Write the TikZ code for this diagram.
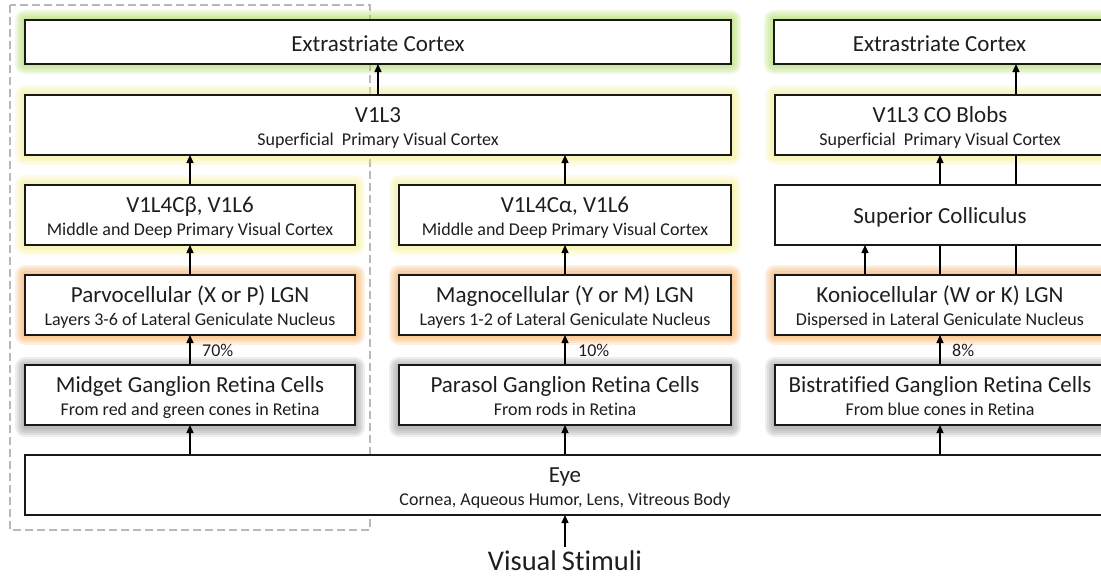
\documentclass[tikz,border=0pt]{standalone}
\usepackage{fontspec}
\setmainfont{Carlito}[Ligatures=NoCommon]
\usetikzlibrary{arrows.meta}
\pgfdeclarelayer{glow}
\pgfdeclarelayer{conn}
\pgfsetlayers{glow,conn,main}
\definecolor{glgreen}{RGB}{165,215,90}
\definecolor{glyellow}{RGB}{240,235,120}
\definecolor{glorange}{RGB}{245,165,80}
\definecolor{glgray}{RGB}{120,120,120}
\definecolor{txt}{RGB}{30,30,30}
\newcommand\boxglow[4]{%
  \begin{pgfonlayer}{glow}
  \foreach \w in {4,8,12,16,20}{%
    \draw[#2, line width=\w pt, opacity=#4, line join=round]
      ([yshift=#3]#1.south west) rectangle ([yshift=#3]#1.north east);}
  \end{pgfonlayer}}
\begin{document}
\begin{tikzpicture}[x=1pt,y=-1pt,
  box/.style={draw=black!90, fill=white, line width=1.3pt, minimum width=330pt,
    minimum height=60pt, inner sep=0pt, outer sep=0pt},
  ttl/.style={font=\fontsize{23}{27}\selectfont, text=txt, anchor=base, inner sep=0pt},
  sub/.style={font=\fontsize{18}{22}\selectfont, text=txt, anchor=base, inner sep=0pt},
  pct/.style={font=\fontsize{18}{22}\selectfont, text=txt, anchor=base west, inner sep=0pt},
  arr/.style={line width=1.3pt, draw=black, -{Triangle[length=8pt,width=7pt]}},
  dashbox/.style={draw=black!28, line width=1.1pt, dash pattern=on 8pt off 4pt}]
\useasboundingbox (0,0) rectangle (1101,576);

\begin{pgfonlayer}{glow}
\draw[dashbox] (10,5) rectangle (370,530);
\end{pgfonlayer}

% boxes
\node[box, minimum width=706pt, minimum height=44pt] (extraL) at (378,42) {};
\node[box, minimum width=331pt, minimum height=44pt] (extraR) at (939.5,42) {};
\node[box, minimum width=706pt] (v1l3) at (378,125) {};
\node[box] (v1l3co) at (940,125) {};
\node[box] (v4b) at (190,215) {};
\node[box, minimum width=332pt] (v4a) at (565,215) {};
\node[box] (sc) at (940,215) {};
\node[box] (parvo) at (190,305) {};
\node[box, minimum width=332pt] (magno) at (565,305) {};
\node[box] (konio) at (940,305) {};
\node[box] (midget) at (190,395) {};
\node[box, minimum width=332pt] (parasol) at (565,395) {};
\node[box] (bistrat) at (940,395) {};
\node[box, minimum width=1080pt] (eye) at (565,485) {};
\node[font=\fontsize{28.5}{32}\selectfont, text=txt, anchor=base, inner sep=3pt] (stim) at (565,570) {Visual\hspace{0.18em}Stimuli};

% glows
\boxglow{extraL}{glgreen}{0pt}{0.17}
\boxglow{extraR}{glgreen}{0pt}{0.17}
\boxglow{v1l3}{glyellow}{0pt}{0.15}
\boxglow{v1l3co}{glyellow}{0pt}{0.15}
\boxglow{v4b}{glyellow}{0pt}{0.15}
\boxglow{v4a}{glyellow}{0pt}{0.15}
\boxglow{parvo}{glorange}{0pt}{0.17}
\boxglow{magno}{glorange}{0pt}{0.17}
\boxglow{konio}{glorange}{0pt}{0.17}
\boxglow{midget}{glgray}{-2pt}{0.13}
\boxglow{parasol}{glgray}{-2pt}{0.13}
\boxglow{bistrat}{glgray}{-2pt}{0.13}

% texts
\node[ttl] (tExL) at ([yshift=-31pt]extraL.north) {Extrastriate Cortex};
\node[ttl] (tExR) at ([yshift=-31pt]extraR.north) {Extrastriate Cortex};
\node[ttl] (tV3) at ([yshift=-27pt]v1l3.north) {V1L3};
\node[sub] (sV3) at ([yshift=-50pt]v1l3.north) {Superficial\ \ Primary Visual Cortex};
\node[ttl] (tV3co) at ([yshift=-27pt]v1l3co.north) {V1L3 CO Blobs};
\node[sub] (sV3co) at ([yshift=-50pt]v1l3co.north) {Superficial\ \ Primary Visual Cortex};
\node[ttl] (tV4b) at ([yshift=-27pt]v4b.north) {V1L4Cβ, V1L6};
\node[sub] (sV4b) at ([yshift=-50pt]v4b.north) {Middle and Deep Primary Visual Cortex};
\node[ttl] (tV4a) at ([yshift=-27pt]v4a.north) {V1L4Cα, V1L6};
\node[sub] (sV4a) at ([yshift=-50pt]v4a.north) {Middle and Deep Primary Visual Cortex};
\node[ttl] (tSC) at ([yshift=-38pt]sc.north) {Superior Colliculus};
\node[ttl] (tPa) at ([yshift=-27pt]parvo.north) {Parvocellular (X or P) LGN};
\node[sub] (sPa) at ([yshift=-50pt]parvo.north) {Layers 3-6 of Lateral Geniculate Nucleus};
\node[ttl] (tMa) at ([yshift=-27pt]magno.north) {Magnocellular (Y or M) LGN};
\node[sub] (sMa) at ([yshift=-50pt]magno.north) {Layers 1-2 of Lateral Geniculate Nucleus};
\node[ttl] (tKo) at ([yshift=-27pt]konio.north) {Koniocellular (W or K) LGN};
\node[sub] (sKo) at ([yshift=-50pt]konio.north) {Dispersed in Lateral Geniculate Nucleus};
\node[ttl] (tMi) at ([yshift=-27pt]midget.north) {Midget Ganglion Retina Cells};
\node[sub] (sMi) at ([yshift=-50pt]midget.north) {From red and green cones in Retina};
\node[ttl] (tPs) at ([yshift=-27pt]parasol.north) {Parasol Ganglion Retina Cells};
\node[sub] (sPs) at ([yshift=-50pt]parasol.north) {From rods in Retina};
\node[ttl] (tBi) at ([yshift=-27pt]bistrat.north) {Bistratified Ganglion Retina Cells};
\node[sub] (sBi) at ([yshift=-50pt]bistrat.north) {From blue cones in Retina};
\node[ttl] (tEy) at ([yshift=-27pt]eye.north) {Eye};
\node[sub] (sEy) at ([yshift=-50pt]eye.north) {Cornea, Aqueous Humor, Lens, Vitreous Body};

% percentages
\node[pct] (p70) at ([xshift=12pt,yshift=-21pt]parvo.south) {70\%};
\node[pct] (p10) at ([xshift=13pt,yshift=-21pt]magno.south) {10\%};
\node[pct] (p8) at ([xshift=12pt,yshift=-21pt]konio.south) {8\%};

% connectors
\begin{pgfonlayer}{conn}
\draw[arr] (v1l3.north) -- (extraL.south);
\draw[arr] (v4b.north) -- (v4b.north |- v1l3.south);
\draw[arr] (v4a.north) -- (v4a.north |- v1l3.south);
\draw[arr] (parvo.north) -- (v4b.south);
\draw[arr] (magno.north) -- (v4a.south);
\draw[arr] (midget.north) -- (parvo.south);
\draw[arr] (parasol.north) -- (magno.south);
\draw[arr] (bistrat.north) -- (konio.south);
\draw[arr] (eye.north -| midget.south) -- (midget.south);
\draw[arr] (eye.north -| parasol.south) -- (parasol.south);
\draw[arr] (eye.north -| bistrat.south) -- (bistrat.south);
\draw[arr] ([xshift=-75pt]konio.north) -- ([xshift=-75pt]sc.south);
\draw[arr] (konio.north) -- (v1l3co.south);
\draw[arr] ([xshift=76pt]konio.north) -- ([xshift=76.5pt]extraR.south);
\draw[arr] (stim.north) -- (eye.south);
\end{pgfonlayer}
\end{tikzpicture}
\end{document}
